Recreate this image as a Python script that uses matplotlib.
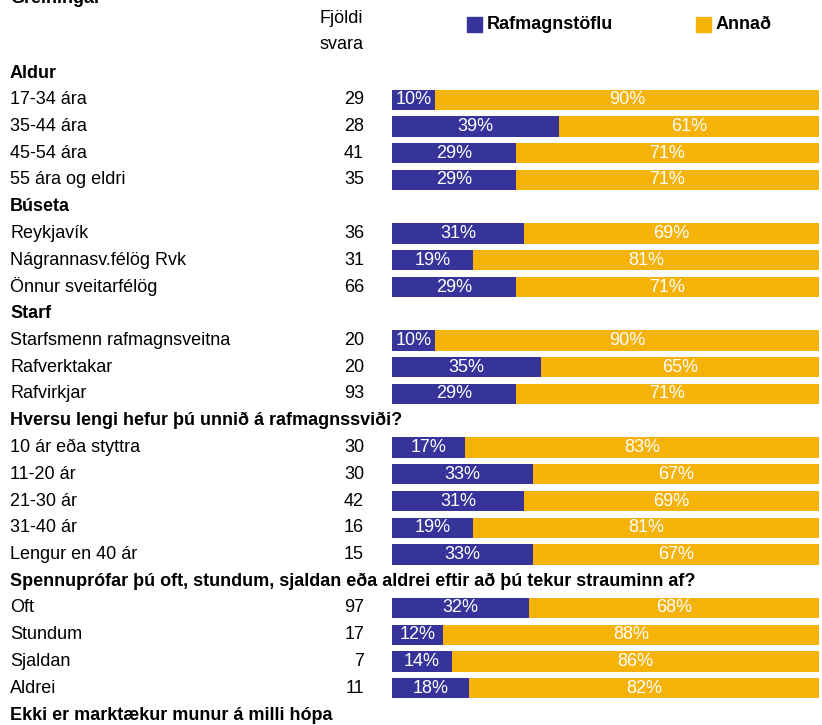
"""
Rafmagnstöflu vs Annað, broken down by background groups.
"""

import matplotlib
matplotlib.use("Agg")

import matplotlib.pyplot as plt
import matplotlib.transforms as mtransforms
from matplotlib import font_manager
from matplotlib.patches import Rectangle

BLUE = "#36349a"
ORANGE = "#f5b30a"

available = {f.name for f in font_manager.fontManager.ttflist}
if "Liberation Sans Narrow" in available:
    FAMILY = ["Liberation Sans Narrow", "DejaVu Sans"]
    FS = 15
else:
    FAMILY = ["Liberation Sans", "DejaVu Sans"]
    FS = 13

# rows from top to bottom; headers have no numbers
LABELS = [
    "Aldur", "17-34 ára", "35-44 ára", "45-54 ára", "55 ára og eldri",
    "Búseta", "Reykjavík", "Nágrannasv.félög Rvk", "Önnur sveitarfélög",
    "Starf", "Starfsmenn rafmagnsveitna", "Rafverktakar", "Rafvirkjar",
    "Hversu lengi hefur þú unnið á rafmagnssviði?",
    "10 ár eða styttra", "11-20 ár", "21-30 ár", "31-40 ár", "Lengur en 40 ár",
    "Spennuprófar þú oft, stundum, sjaldan eða aldrei eftir að þú tekur strauminn af?",
    "Oft", "Stundum", "Sjaldan", "Aldrei",
]
IS_HEADER = [
    True, False, False, False, False,
    True, False, False, False,
    True, False, False, False,
    True, False, False, False, False, False,
    True, False, False, False, False,
]
N_SVARA = [
    None, 29, 28, 41, 35,
    None, 36, 31, 66,
    None, 20, 20, 93,
    None, 30, 30, 42, 16, 15,
    None, 97, 17, 7, 11,
]
RAFMAGN = [
    None, 10, 39, 29, 29,
    None, 31, 19, 29,
    None, 10, 35, 29,
    None, 17, 33, 31, 19, 33,
    None, 32, 12, 14, 18,
]
ANNAD = [
    None, 90, 61, 71, 71,
    None, 69, 81, 71,
    None, 90, 65, 71,
    None, 83, 67, 69, 81, 67,
    None, 68, 88, 86, 82,
]
FOOTNOTE = "Ekki er marktækur munur á milli hópa"

W, H = 822, 725
ROW0, STEP = 73, 26.75  # pixel centre of first row and row spacing


def main() -> None:
    plt.rcParams["font.family"] = FAMILY
    fig = plt.figure(figsize=(W / 100, H / 100), dpi=100)

    ax = fig.add_axes([392 / W, 0, (819 - 392) / W, 1])
    ax.set_xlim(0, 100)
    ax.set_ylim((H - ROW0) / STEP, -ROW0 / STEP)
    ax.axis("off")

    left = mtransforms.blended_transform_factory(fig.transFigure, ax.transData)

    for i, (lab, hdr) in enumerate(zip(LABELS, IS_HEADER)):
        ax.text(10 / W, i, lab, transform=left, ha="left", va="center",
                fontsize=FS, fontweight="bold" if hdr else "normal")
        if hdr:
            continue
        ax.text(364 / W, i, str(N_SVARA[i]), transform=left, ha="right",
                va="center", fontsize=FS)
        b, o = RAFMAGN[i], ANNAD[i]
        ax.barh(i, b, height=0.75, color=BLUE, linewidth=0)
        ax.barh(i, o, left=b, height=0.75, color=ORANGE, linewidth=0)
        ax.text(b / 2, i, f"{b}%", ha="center", va="center", color="white",
                fontsize=FS)
        ax.text(b + o / 2, i, f"{o}%", ha="center", va="center", color="white",
                fontsize=FS)

    n = len(LABELS)
    ax.text(10 / W, n, FOOTNOTE, transform=left, ha="left", va="center",
            fontsize=FS, fontweight="bold")

    # top header area (title is partly cut off at the top, as in the source)
    ax.text(10 / W, -2.8, "Greiningar", transform=left, ha="left",
            va="center", fontsize=FS, fontweight="bold")
    ax.text(341 / W, -2.02, "Fjöldi", transform=left, ha="center",
            va="center", fontsize=FS)
    ax.text(341 / W, -1.05, "svara", transform=left, ha="center",
            va="center", fontsize=FS)

    # legend
    for x0, col, name in [(467, BLUE, "Rafmagnstöflu"), (696, ORANGE, "Annað")]:
        fig.patches.append(Rectangle((x0 / W, 1 - 32 / H), 15 / W, 15 / H,
                                     transform=fig.transFigure, color=col))
        fig.text((x0 + 20) / W, 1 - 24.5 / H, name, ha="left", va="center",
                 fontsize=FS, fontweight="bold")

    fig.savefig("out.png", dpi=100)
    plt.close(fig)


if __name__ == "__main__":
    main()
